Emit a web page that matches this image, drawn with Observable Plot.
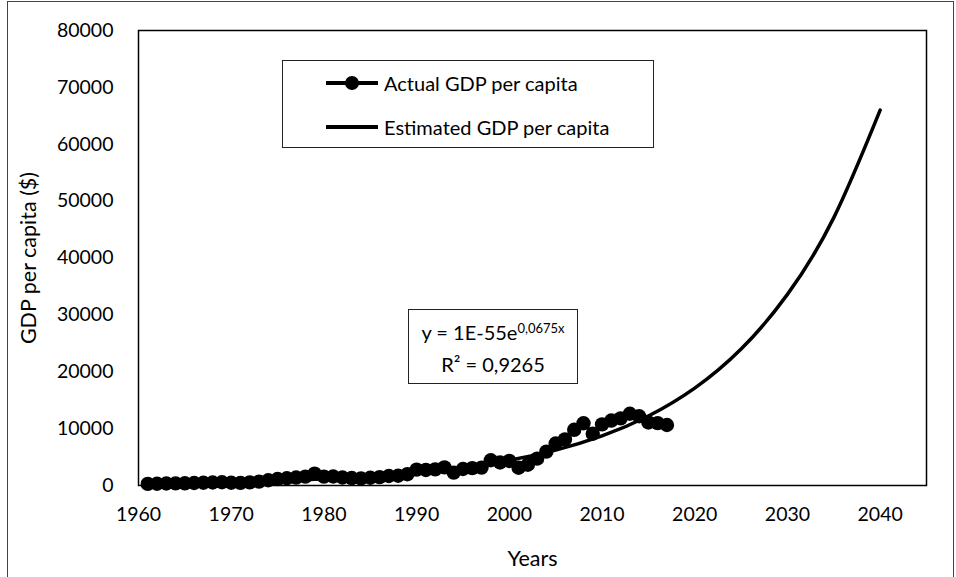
<!DOCTYPE html>
<html>
<head>
<meta charset="utf-8">
<script src="https://cdn.jsdelivr.net/npm/d3@7"></script>
<script src="https://cdn.jsdelivr.net/npm/@observablehq/plot@0.6"></script>
<style>
  html, body { margin: 0; padding: 0; background: #fff; }
  #wrap { position: relative; width: 956px; height: 577px; font-family: Lato, "Open Sans", sans-serif; overflow: hidden; }
  #border { position: absolute; left: 7px; top: 1px; width: 947px; height: 620px; border: 1px solid #444; box-sizing: border-box; }
  .box { position: absolute; border: 1.5px solid #222; background: #fff; box-sizing: border-box; color: #000; font-size: 20px; }
  .row { position: absolute; display: flex; align-items: center; white-space: nowrap; height: 28px; }
  .sw { position: relative; width: 52px; height: 3.5px; background: #000; margin-right: 6px; }
  .dot { position: absolute; left: 19px; top: -5.5px; width: 14px; height: 14px; border-radius: 50%; background: #000; }
  .eqline { position: absolute; left: 0; width: 100%; text-align: center; white-space: nowrap; }
  sup { font-size: 13px; vertical-align: 7px; line-height: 0; }
</style>
</head>
<body>
<div id="wrap"><div id="border"></div></div>
<script>
// Actual GDP per capita
const years = [1961,1962,1963,1964,1965,1966,1967,1968,1969,1970,1971,1972,1973,1974,1975,1976,1977,1978,1979,1980,
  1981,1982,1983,1984,1985,1986,1987,1988,1989,1990,1991,1992,1993,1994,1995,1996,1997,1998,1999,2000,
  2001,2002,2003,2004,2005,2006,2007,2008,2009,2010,2011,2012,2013,2014,2015,2016,2017];
const gdp = [283,309,350,372,386,444,482,524,570,489,453,558,686,929,1136,1275,1399,1555,2081,1564,
  1579,1402,1310,1248,1368,1477,1671,1711,1986,2791,2735,2842,3180,2270,2897,3053,3144,4442,4050,4317,
  3119,3660,4718,5961,7384,8101,9792,10941,9104,10743,11420,11796,12615,12179,11085,10964,10638];
// Estimated (trend) GDP per capita
const estYears = [1961,1965,1970,1975,1980,1985,1990,1995,2000,2005,2010,2015,2020,2025,2030,2035,2040];
const estGdp   = [320,420,590,820,1150,1610,2260,3170,4440,6220,8710,12210,17110,23980,33600,47100,66000];
// Axis ticks
const xTicks = [1960,1970,1980,1990,2000,2010,2020,2030,2040];
const yTicks = [0,10000,20000,30000,40000,50000,60000,70000,80000];

const actual = years.map((y, i) => ({year: y, value: gdp[i]}));
const estimated = estYears.map((y, i) => ({year: y, value: estGdp[i]}));

const chart = Plot.plot({
  width: 956,
  height: 577,
  marginLeft: 138,
  marginRight: 30,
  marginTop: 30,
  marginBottom: 92,
  style: {fontFamily: "Lato, 'Open Sans', sans-serif", fontSize: "19.5px", background: "transparent", color: "#000", overflow: "visible"},
  x: {domain: [1960, 2045], ticks: xTicks, tickFormat: d => String(d), tickSize: 0, tickPadding: 22, label: null},
  y: {domain: [0, 80000], ticks: yTicks, tickFormat: d => String(d), tickSize: 0, tickPadding: 25, label: null},
  marks: [
    Plot.frame({stroke: "#000", strokeWidth: 1.5}),
    Plot.line(estimated, {x: "year", y: "value", stroke: "#000", strokeWidth: 3.5, curve: "natural"}),
    Plot.line(actual, {x: "year", y: "value", stroke: "#000", strokeWidth: 3.5}),
    Plot.dot(actual, {x: "year", y: "value", r: 7.2, fill: "#000", stroke: "none"}),
    Plot.axisX({ticks: xTicks, tickFormat: d => String(d), tickSize: 0, tickPadding: 22, label: "Years", labelAnchor: "center", labelArrow: "none", labelOffset: 80, fontSize: 19.5}),
    Plot.axisY({ticks: yTicks, tickFormat: d => String(d), tickSize: 0, tickPadding: 25, label: "GDP per capita ($)", labelAnchor: "center", labelArrow: "none", labelOffset: 118, fontSize: 19.5})
  ]
});
// enlarge axis titles
chart.querySelectorAll("g[aria-label='x-axis label'] text, g[aria-label='y-axis label'] text").forEach(t => t.style.fontSize = "21.5px");
chart.style.position = "absolute";
chart.style.left = "0px";
chart.style.top = "0px";
const wrap = document.getElementById("wrap");
wrap.appendChild(chart);

// Legend box
const legend = document.createElement("div");
legend.className = "box";
Object.assign(legend.style, {left: "282px", top: "60px", width: "372px", height: "88px"});
legend.innerHTML =
  '<div class="row" style="left:43px; top:8px"><div class="sw"><div class="dot"></div></div>Actual GDP per capita</div>' +
  '<div class="row" style="left:43px; top:52px"><div class="sw"></div>Estimated GDP per capita</div>';
wrap.appendChild(legend);

// Equation box
const eq = document.createElement("div");
eq.className = "box";
Object.assign(eq.style, {left: "408px", top: "309px", width: "170px", height: "75px"});
eq.innerHTML = '<div class="eqline" style="top:10px">y = 1E-55e<sup>0,0675x</sup></div>' +
               '<div class="eqline" style="top:42px">R² = 0,9265</div>';
wrap.appendChild(eq);
</script>
</body>
</html>
